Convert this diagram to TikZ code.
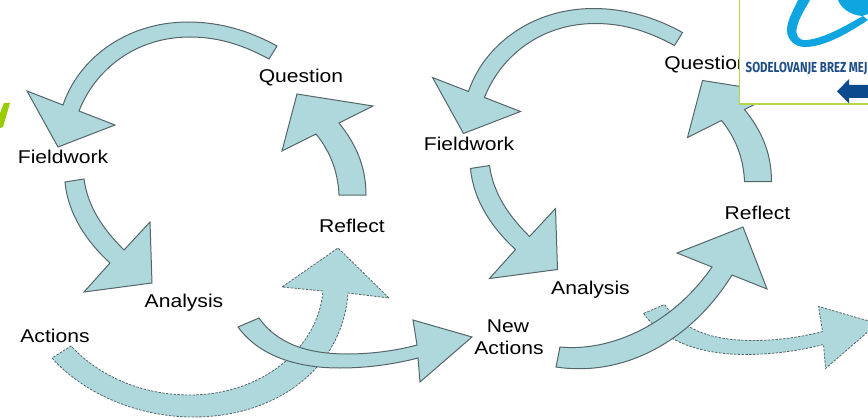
\documentclass[tikz,border=0pt]{standalone}
\usepackage{fontspec}
\setmainfont[FakeStretch=1.14]{Liberation Sans}
\newfontfamily\logofont[FakeStretch=0.79]{Fira Sans}
\definecolor{arrowfill}{HTML}{AED8DC}
\definecolor{arrowline}{HTML}{55666A}
\definecolor{framegreen}{HTML}{B4D84A}
\definecolor{markgreen}{HTML}{9ACB00}
\definecolor{swoosh}{HTML}{0EA5E0}
\definecolor{navy}{HTML}{1F4E86}
\definecolor{arrownavy}{HTML}{0B4A8C}
\tikzset{
  x=1pt,y=-1pt,
  solidarrow/.style={fill=arrowfill,draw=arrowline,line width=1pt,line join=miter},
  dashedarrow/.style={fill=arrowfill,draw=arrowline,line width=0.8pt,dash pattern=on 2.4pt off 1.4pt},
  lbl/.style={font=\fontsize{18.5}{22}\selectfont,text=black,inner sep=0pt,align=center,anchor=base},
}
% Arrow outlines shared by both cycles
\newcommand{\ArrowTop}{(277,46) .. controls (250,31) and (220,22) .. (188,22) .. controls (125,22) and (78,60) .. (63,105) -- (27,91) -- (58,147) -- (115,125) -- (79,111) .. controls (95,70) and (135,37) .. (190,37) .. controls (220,37) and (245,46) .. (269,59) -- cycle}
\newcommand{\ArrowDown}{(65,182) .. controls (68,215) and (88,243) .. (110,263) -- (84,292) -- (152,283) -- (150,222) -- (124,250) .. controls (104,230) and (88,208) .. (84,179) -- cycle}
\newcommand{\ArrowUp}{(339,195) .. controls (338,170) and (329,150) .. (316,134) -- (282,151) -- (297,94) -- (373,106) -- (339,123) .. controls (355,143) and (366,165) .. (366,195) -- cycle}
\newcommand{\ArrowFlat}{(238,327) .. controls (262,360) and (305,368) .. (340,368) .. controls (368,368) and (395,364) .. (418,358) -- (420,382) -- (472,337) -- (413,320) -- (417,345) .. controls (395,351) and (370,354) .. (347,354) .. controls (310,354) and (278,345) .. (259,318) -- cycle}
\begin{document}
\begin{tikzpicture}
\useasboundingbox (0,0) rectangle (868,420);
\clip (0,0) rectangle (868,420);
% green fragment at the left edge
\fill[markgreen] (4,103) -- (10,103) -- (3,127) -- (0,128) -- (0,113) -- cycle;
% left cycle
\draw[dashedarrow] (52,358) .. controls (85,395) and (140,417) .. (193,417) .. controls (280,417) and (343,365) .. (348,293) -- (389,298) -- (338,248) -- (282,287) -- (323,291) .. controls (318,350) and (260,395) .. (190,395) .. controls (140,395) and (98,375) .. (71,346) -- cycle;
\draw[solidarrow] \ArrowFlat;
\draw[solidarrow] \ArrowTop;
\draw[solidarrow] \ArrowDown;
\draw[solidarrow] \ArrowUp;
% right cycle
\begin{scope}[shift={(405.5,-13.5)}]
\draw[solidarrow] \ArrowTop;
\draw[solidarrow] \ArrowDown;
\draw[solidarrow] \ArrowUp;
\draw[dashedarrow] \ArrowFlat;
\end{scope}
\draw[solidarrow] (560,347) .. controls (610,352) and (672,325) .. (712,267) -- (677,253) -- (743,227) -- (767,289) -- (732,275) .. controls (695,335) and (630,378) .. (556,367) -- cycle;
% labels
\node[lbl] (question1) at (301,83) {Question};
\node[lbl] (fieldwork1) at (63,163) {Fieldwork};
\node[lbl] (analysis1) at (184,307) {Analysis};
\node[lbl] (actions1) at (55,342) {Actions};
\node[lbl] (reflect1) at (352,232) {Reflect};
\node[lbl] (question2) at (706.5,70) {Question};
\node[lbl] (fieldwork2) at (469,150) {Fieldwork};
\node[lbl] (analysis2) at (590.5,294) {Analysis};
\node[lbl] (newactions1) at (508,332) {New};
\node[lbl] (newactions2) at (509,354) {Actions};
\node[lbl] (reflect2) at (757.5,219) {Reflect};
% logo panel
\fill[white] (739.5,-2) rectangle (870,104);
\draw[framegreen,line width=1.4pt] (739.5,-2) -- (739.5,104) -- (870,104);
\fill[swoosh] (798,0) .. controls (793,11) and (787,21) .. (787,30) .. controls (787,40) and (795,47) .. (805,47) .. controls (825,47) and (850,32) .. (868,20) -- (863,16) .. controls (845,26) and (825,38) .. (807,40) .. controls (798,41) and (795,35) .. (797,27) .. controls (799,18) and (805,9) .. (810,0) -- cycle;
\fill[swoosh] (838,0) .. controls (841,8) and (850,15) .. (862,16) -- (868,14) -- (868,0) -- cycle;
\node[font=\logofont\bfseries\fontsize{14.5}{16}\selectfont,text=navy,inner sep=0pt,anchor=base west] (logotext) at (745.5,72.5) {SODELOVANJE BREZ MEJ};
\fill[arrownavy] (837,91.5) -- (849,79) -- (849,85) -- (870,85) -- (870,98) -- (849,98) -- (849,103.5) -- cycle;
\end{tikzpicture}
\end{document}
